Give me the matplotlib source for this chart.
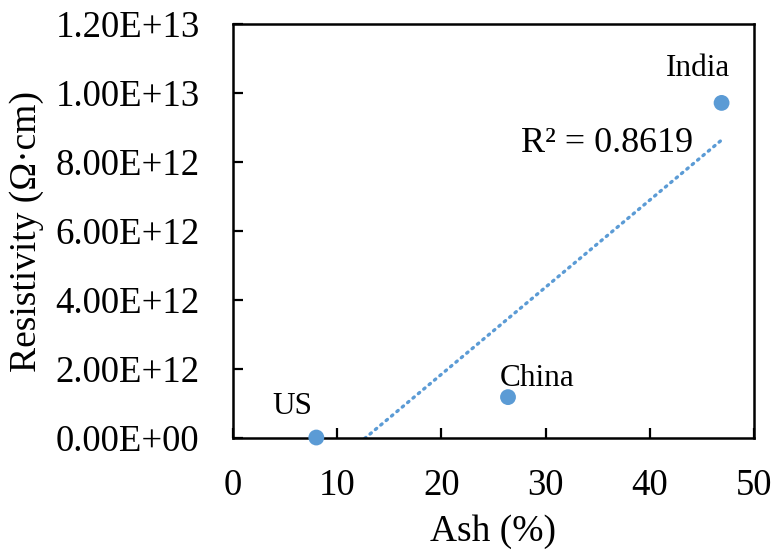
import numpy as np
import matplotlib
matplotlib.use("Agg")
import matplotlib.pyplot as plt

# Coal ash content vs. electrical resistivity
countries = ["US", "China", "India"]
ash_pct = [8.0, 26.4, 46.9]
resistivity = [0.02e12, 1.19e12, 9.71e12]
r2_label = "R² = 0.8619"

x_ticks = [0, 10, 20, 30, 40, 50]
y_ticks = [0, 2e12, 4e12, 6e12, 8e12, 1.0e13, 1.2e13]
y_tick_labels = ["0.00E+00", "2.00E+12", "4.00E+12", "6.00E+12",
                 "8.00E+12", "1.00E+13", "1.20E+13"]

blue = "#5B9BD5"
plt.rcParams["font.family"] = ["Liberation Serif", "DejaVu Serif"]

fig = plt.figure(figsize=(7.74, 5.54), dpi=100)
ax = fig.add_axes([0.301, 0.209, 0.673, 0.748])

# Linear trendline fitted to the three points
slope, intercept = np.polyfit(ash_pct, resistivity, 1)
xfit = np.linspace(min(ash_pct), max(ash_pct), 200)
ax.plot(xfit, slope * xfit + intercept, color=blue, lw=2.4,
        linestyle=(0, (0.5, 1.6)), dash_capstyle="round")

ax.scatter(ash_pct, resistivity, s=130, color=blue, zorder=3, clip_on=False,
           edgecolors="none")

offsets = {"US": (-17, 12), "China": (21, 3), "India": (-17, 14)}
for name, xv, yv in zip(countries, ash_pct, resistivity):
    dx, dy = offsets[name]
    ax.annotate(name, (xv, yv), xytext=(dx, dy), textcoords="offset points",
                ha="center", va="bottom", fontsize=22.5)

ax.text(0.553, 0.71, r2_label, transform=ax.transAxes, fontsize=26,
        ha="left", va="center")

ax.set_xlim(0, 50)
ax.set_ylim(0, 1.2e13)
ax.set_xticks(x_ticks)
ax.set_xticklabels([str(t) for t in x_ticks])
ax.set_yticks(y_ticks)
ax.set_yticklabels(y_tick_labels)
ax.tick_params(axis="both", direction="in", length=7, width=1.6,
               labelsize=26.5, colors="black")
ax.tick_params(axis="x", pad=22)
ax.tick_params(axis="y", pad=24)
for sp in ax.spines.values():
    sp.set_linewidth(1.8)

ax.set_xlabel("Ash (%)", fontsize=27, labelpad=8)
ax.set_ylabel("Resistivity (Ω·cm)", fontsize=27, labelpad=8)

fig.savefig("out.png", dpi=100)
